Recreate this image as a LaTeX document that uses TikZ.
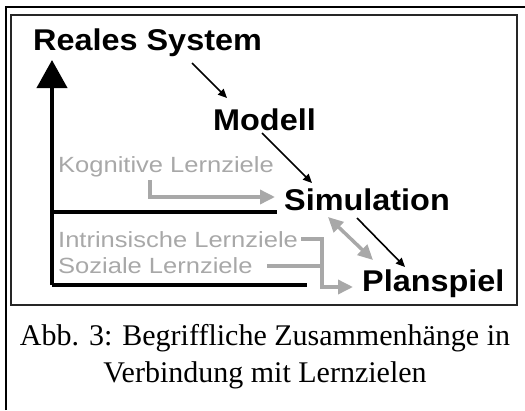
\documentclass[tikz,border=0pt]{standalone}
\usepackage{fontspec}
\usepackage{xcolor}
\usetikzlibrary{arrows.meta,calc}
\newfontfamily\headfont[FakeStretch=1.08]{Liberation Sans}
\newfontfamily\goalfont[FakeStretch=1.16]{Liberation Sans}
\newfontfamily\capfont{Liberation Serif}
\definecolor{goalgray}{gray}{0.66}

\begin{document}
\begin{tikzpicture}[x=1pt, y=-1pt]
\tikzstyle{stage}=[inner sep=0pt, anchor=base west, font=\headfont\bfseries\fontsize{30}{30}\selectfont]
\tikzstyle{goal}=[inner sep=0pt, anchor=base west, text=goalgray, font=\goalfont\fontsize{22}{22}\selectfont]
\tikzstyle{flow}=[line width=1.6pt, -{Triangle[length=9pt,width=8pt]}]
\tikzstyle{goalflow}=[draw=goalgray, line width=3.5pt, -{Triangle[length=15pt,width=14pt]}]
\tikzstyle{axis}=[line width=4pt]

\useasboundingbox (0,0) rectangle (525,410);

% page edge and figure frame
\draw[line width=2pt] (6,410) -- (6,7) -- (525,7);
\draw[line width=2.5pt, black!85] (11,15) rectangle (517,305);

% stages
\node[stage] (real) at (33,50) {Reales System};
\node[stage] (modell) at (213,130) {Modell};
\node[stage] (sim) at (284,210) {Simulation};
\node[stage] (plan) at (362,291) {Planspiel};

% learning goals
\node[goal] (kog) at (58,172) {Kognitive Lernziele};
\node[goal] (intr) at (58,247) {Intrinsische Lernziele};
\node[goal] (soz) at (58,273) {Soziale Lernziele};

% axes
\coordinate (origin) at (52,285);
\draw[axis, -{Triangle[length=28pt,width=30pt]}] (origin) -- ++(0,-225);
\draw[axis] (origin) -- ($(plan.base west)+(-55,-6)$);
\draw[axis] ($(origin)+(0,-73)$) -- ($(sim.base west)+(-7,2)$);

% chain of stages
\draw[flow] ($(real.base west)+(159,13)$) -- ($(modell.base west)+(14,-32)$);
\draw[flow] ($(modell.base west)+(49,3)$) -- ($(sim.base west)+(28,-27)$);
\draw[flow] ($(sim.base west)+(73,8)$) -- ($(plan.base west)+(43,-24)$);

% learning goals feeding in
\draw[goalflow] ($(kog.base west)+(92,8)$) |- ($(sim.base west)+(-9,-13)$);
\draw[goalflow, {Triangle[length=15pt,width=14pt]}-{Triangle[length=15pt,width=14pt]}]
  ($(sim.base west)+(44,7)$) -- ($(plan.base west)+(11,-31)$);
\draw[goalflow] ($(intr.base east)+(3,-8)$) -| ($(plan.base west)+(-40,-4)$) -- ($(plan.base west)+(-9,-4)$);
\draw[goalflow, -] ($(soz.base east)+(14,-7)$) -- ($(plan.base west)+(-40,-25)$);

% caption
\node[font=\capfont\fontsize{30}{37}\selectfont, align=center, anchor=north, inner sep=0pt] (cap) at (265,324)
  {Abb. 3: Begriffliche Zusammenhänge in\\Verbindung mit Lernzielen};
\end{tikzpicture}
\end{document}
